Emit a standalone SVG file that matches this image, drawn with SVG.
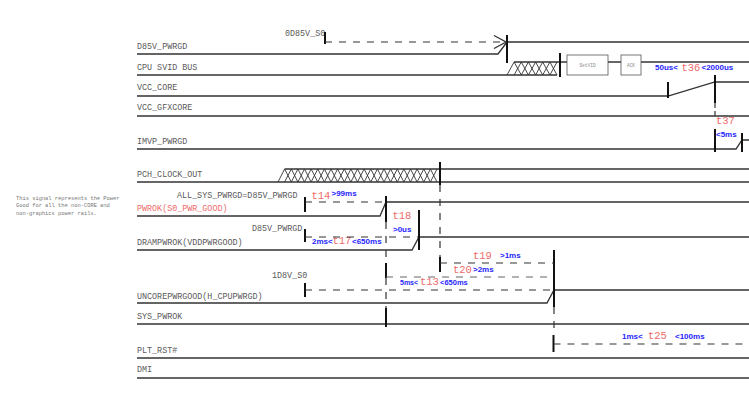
<svg xmlns="http://www.w3.org/2000/svg" width="749" height="398" viewBox="0 0 749 398">
<style>
.lbl{font-family:"Liberation Mono",monospace;font-size:8.4px;fill:#5a5a5a}
.red{font-family:"Liberation Mono",monospace;font-size:10.5px;fill:#f06a6a}
.blu{font-family:"Liberation Sans",Arial,sans-serif;font-size:8px;font-weight:bold;fill:#1f1fff}
.sig{fill:none;stroke:#333;stroke-width:1.3}
.mk{stroke:#111;stroke-width:2}
.dash{fill:none;stroke:#333;stroke-width:1.2;stroke-dasharray:7 7}
.note{font-family:"Liberation Mono",monospace;font-size:5.4px;fill:#777}
.hatch{fill:none;stroke:#333;stroke-width:0.9}
.box{fill:#fff;stroke:#555;stroke-width:0.8}
.tiny{font-family:"Liberation Mono",monospace;font-size:4.5px;fill:#888;text-anchor:middle}
</style>
<defs>
<marker id="arr" markerUnits="userSpaceOnUse" markerWidth="14" markerHeight="14" viewBox="0 0 14 14" refX="13" refY="7" orient="auto">
<path d="M1,0.5 L13,7 L1,13.5" fill="none" stroke="#333" stroke-width="1.2"/>
</marker>
</defs>
<rect width="749" height="398" fill="#fff"/>

<g id="note">
<text class="note" x="16" y="200">This signal represents the Power</text>
<text class="note" x="16" y="207">Good for all the non-CORE and</text>
<text class="note" x="16" y="214.5">non-graphics power rails.</text>
</g>

<g id="d85v_pwrgd">
<text class="lbl" x="137" y="49">D85V_PWRGD</text>
<text class="lbl" x="285" y="36">0D85V_S0</text>
<polyline class="sig" points="137,54 498,54 507,42 749,42"/>
<line class="mk" x1="507" y1="35" x2="507" y2="63"/>
<line class="mk" x1="325" y1="32" x2="325" y2="44"/>
</g>

<g id="cpu_svid_bus">
<text class="lbl" x="137" y="70">CPU SVID BUS</text>
<line class="sig" x1="137" y1="75" x2="557" y2="75"/>
<line class="sig" x1="514" y1="62" x2="749" y2="62"/>
<polyline class="hatch" points="507,75 514.1,62 521.3,75 528.4,62 535.6,75 542.7,62 549.9,75 557,62"/>
<polyline class="hatch" points="514.1,75 521.3,62 528.4,75 535.6,62 542.7,75 549.9,62 557,75"/>
<line class="mk" x1="560" y1="53" x2="560" y2="77"/>
<rect class="box" x="567" y="55" width="41" height="20"/>
<text class="tiny" x="587.5" y="66.5">SetVID</text>
<rect class="box" x="621" y="55" width="20" height="20"/>
<text class="tiny" x="631" y="66.5">ACK</text>
</g>

<g id="vcc_core">
<text class="lbl" x="137" y="90">VCC_CORE</text>
<polyline class="sig" points="137,96 668,96 715,82 749,82"/>
<line class="mk" x1="668" y1="82" x2="668" y2="98"/>
<line class="mk" x1="715" y1="75" x2="715" y2="103"/>
<text class="blu" x="655" y="70">50us&lt;</text>
<text class="red" x="681.5" y="71">t36</text>
<text class="blu" x="701.5" y="70">&lt;2000us</text>
</g>

<g id="vcc_gfxcore">
<text class="lbl" x="137" y="110">VCC_GFXCORE</text>
<line class="sig" x1="137" y1="116" x2="749" y2="116"/>
</g>

<g id="imvp_pwrgd">
<text class="lbl" x="137" y="143.5">IMVP_PWRGD</text>
<polyline class="sig" points="137,149 736,149 742,140 749,140"/>
<line class="mk" x1="715" y1="129" x2="715" y2="152"/>
<line class="mk" x1="742" y1="133" x2="742" y2="152"/>
<text class="red" x="716" y="124">t37</text>
<text class="blu" x="716" y="137">&lt;5ms</text>
</g>

<g id="pch_clock_out">
<text class="lbl" x="137" y="177">PCH_CLOCK_OUT</text>
<line class="sig" x1="137" y1="182" x2="749" y2="182"/>
<line class="sig" x1="284.6" y1="169" x2="749" y2="169"/>
<polyline class="hatch" points="278,182 284.6,169 291.3,182 297.9,169 304.5,182 311.1,169 317.8,182 324.4,169 331,182 337.6,169 344.3,182 350.9,169 357.5,182 364.1,169 370.8,182 377.4,169 384,182 390.6,169 397.3,182 403.9,169 410.5,182 417.1,169 423.8,182 430.4,169 437,182"/>
<polyline class="hatch" points="284.6,182 291.3,169 297.9,182 304.5,169 311.1,182 317.8,169 324.4,182 331,169 337.6,182 344.3,169 350.9,182 357.5,169 364.1,182 370.8,169 377.4,182 384,169 390.6,182 397.3,169 403.9,182 410.5,169 417.1,182 423.8,169 430.4,182 437,169"/>
<line class="mk" x1="440" y1="162" x2="440" y2="185"/>
</g>

<g id="pwrok">
<text class="lbl" x="177" y="198">ALL_SYS_PWRGD=D85V_PWRGD</text>
<text class="lbl" x="137" y="210.5" style="fill:#f06a6a">PWROK(S0_PWR_GOOD)</text>
<polyline class="sig" points="137,216 380,216 386,202 749,202"/>
<line class="mk" x1="386" y1="196" x2="386" y2="222"/>
<line class="mk" x1="305" y1="197" x2="305" y2="212"/>
<text class="red" x="311.5" y="198.5">t14</text>
<text class="blu" x="331.5" y="196">&gt;99ms</text>
</g>

<g id="drampwrok">
<text class="lbl" x="252" y="231">D85V_PWRGD</text>
<text class="lbl" x="137" y="244.5">DRAMPWROK(VDDPWRGOOD)</text>
<polyline class="sig" points="137,250 412,250 419,237 749,237"/>
<line class="mk" x1="419" y1="210" x2="419" y2="250"/>
<line class="mk" x1="305" y1="229" x2="305" y2="242"/>
<text class="red" x="392.5" y="218.5">t18</text>
<text class="blu" x="393" y="232">&gt;0us</text>
<text class="blu" x="312" y="243.5">2ms&lt;</text>
<text class="red" x="332.5" y="244">t17</text>
<text class="blu" x="352" y="243.5">&lt;650ms</text>
</g>

<g id="uncorepwrgood">
<text class="lbl" x="272" y="278">1D8V_S0</text>
<text class="lbl" x="137" y="299">UNCOREPWRGOOD(H_CPUPWRGD)</text>
<polyline class="sig" points="137,303 547,303 554,290 749,290"/>
<line class="mk" x1="554" y1="250" x2="554" y2="307"/>
<line class="mk" x1="305" y1="283" x2="305" y2="297"/>
</g>

<g id="sys_pwrok">
<text class="lbl" x="137" y="318.5">SYS_PWROK</text>
<line class="sig" x1="137" y1="324" x2="749" y2="324"/>
<line class="mk" x1="386" y1="308" x2="386" y2="327"/>
</g>

<g id="plt_rst">
<text class="lbl" x="137" y="353">PLT_RST#</text>
<line class="sig" x1="137" y1="358" x2="749" y2="358"/>
<line class="mk" x1="553.5" y1="335" x2="553.5" y2="352"/>
<text class="blu" x="622" y="338.5">1ms&lt;</text>
<text class="red" x="648" y="339">t25</text>
<text class="blu" x="675" y="338.5">&lt;100ms</text>
</g>

<g id="dmi">
<text class="lbl" x="137" y="372">DMI</text>
<line class="sig" x1="137" y1="378" x2="749" y2="378"/>
</g>

<g id="timing">
<line class="dash" x1="325" y1="42" x2="506" y2="42" marker-end="url(#arr)"/>
<line class="dash" x1="305" y1="202" x2="385" y2="202"/>
<line class="dash" x1="305" y1="237" x2="418" y2="237"/>
<line class="dash" x1="305" y1="290" x2="552" y2="290"/>
<line class="dash" x1="553.5" y1="344" x2="749" y2="344"/>
<line class="dash" x1="715" y1="103" x2="715" y2="116" style="stroke-dasharray:5 3"/>
<line class="dash" x1="386" y1="222" x2="386" y2="263"/>
<line class="dash" x1="386" y1="278" x2="386" y2="308"/>
<line class="dash" x1="440" y1="185" x2="440" y2="257"/>
<line class="dash" x1="554" y1="307" x2="554" y2="335"/>
<line class="mk" x1="440" y1="257" x2="440" y2="272"/>
<line class="dash" x1="440" y1="263" x2="554" y2="263"/>
<line class="mk" x1="386" y1="263" x2="386" y2="278"/>
<line class="dash" x1="386" y1="277" x2="554" y2="277" style="stroke:#666"/>
<text class="red" x="473" y="258.5">t19</text>
<text class="blu" x="500" y="258">&gt;1ms</text>
<text class="red" x="453" y="272.5">t20</text>
<text class="blu" x="473" y="272">&gt;2ms</text>
<text class="blu" x="400" y="284.5" style="font-size:7px">5ms&lt;</text>
<text class="red" x="420" y="285">t13</text>
<text class="blu" x="440" y="284.5" style="font-size:7.5px">&lt;650ms</text>
</g>
</svg>
